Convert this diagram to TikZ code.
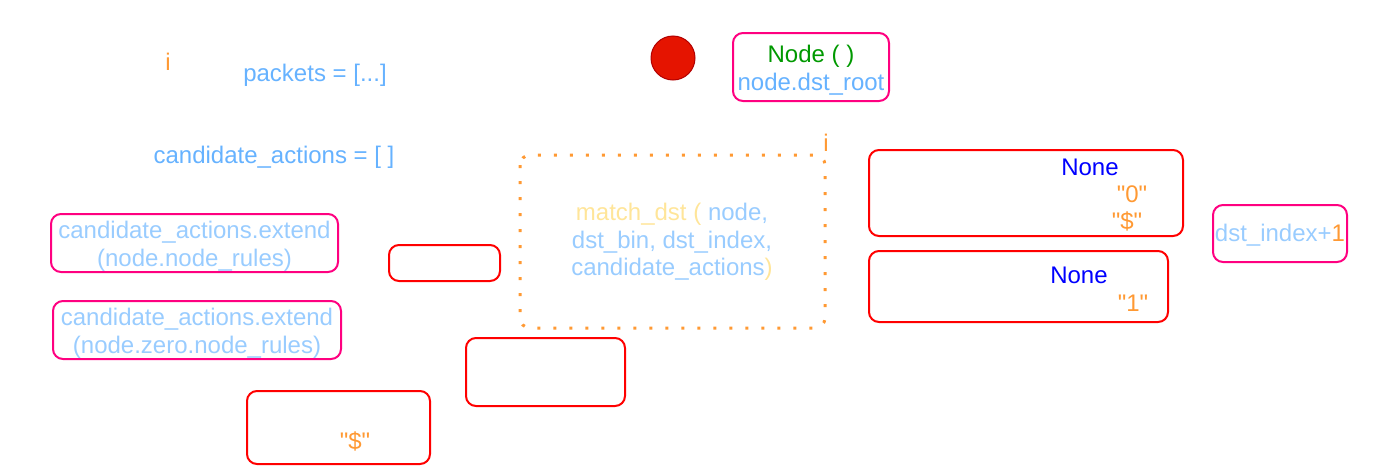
\documentclass[tikz,border=0pt]{standalone}
\usepackage{fontspec}
\setmainfont{Liberation Sans}[Ligatures=TeXOff]
\begin{document}
\definecolor{codeblue}{HTML}{66B2FF}
\definecolor{paleblue}{HTML}{99CCFF}
\definecolor{strorange}{HTML}{FF9933}
\definecolor{fnyellow}{HTML}{FFE599}
\definecolor{kwgreen}{HTML}{009900}
\definecolor{nonblue}{HTML}{0000FF}
\definecolor{boxred}{HTML}{FF0000}
\definecolor{boxpink}{HTML}{FF0080}
\begin{tikzpicture}[x=1pt,y=-1pt,
  every node/.style={inner sep=0pt,font=\fontsize{24}{27.6}\selectfont},
  redbox/.style={draw=boxred,line width=2pt,rounded corners=10pt},
  pinkbox/.style={draw=boxpink,line width=2pt,rounded corners=10pt},
  lbl/.style={align=center}]
\useasboundingbox (0,0) rectangle (1392,466);

% loop markers
\node[text=strorange] (iA) at (168,62) {i};
\node[text=strorange] (iB) at (826,143) {i};

% setup statements
\node[text=codeblue] (pk) at (315,75) {packets = [...]};
\node[text=codeblue] (ca) at (274,157) {candidate\_actions = [ ]};

% start marker
\node[circle,fill={rgb,255:red,229;green,20;blue,0},draw={rgb,255:red,178;green,0;blue,0},line width=1pt,minimum size=44pt] (start) at (673,58) {};

% root node
\node[pinkbox,minimum width=156pt,minimum height=68pt] (root) at (811,67) {};
\node[lbl,text=kwgreen] (rootA) at (811,56) {Node ( )};
\node[lbl,text=codeblue] (rootB) at (811,84) {node.dst\_root};

% recursive call
\draw[strorange,line width=3pt,dash pattern=on 3pt off 13pt,rounded corners=10pt]
  (520,155) rectangle (825,328);
\node[lbl] (callT) at (672,242) {\textcolor{fnyellow}{match\_dst (} \textcolor{paleblue}{node,}\\
  \textcolor{paleblue}{dst\_bin, dst\_index,}\\
  \textcolor{paleblue}{candidate\_actions}\textcolor{fnyellow}{)}};

% branch on bit 0 / end
\node[redbox,minimum width=314pt,minimum height=86pt] (b0) at (1026,193) {};
\node[text=nonblue] (b0n) at (1090,167) {None};
\node[text=strorange] (b0z) at (1132,194) {"0"};
\node[text=strorange] (b0d) at (1127,221) {"\$"};

% branch on bit 1
\node[redbox,minimum width=299pt,minimum height=71pt] (b1) at (1018.5,286.5) {};
\node[text=nonblue] (b1n) at (1079,275) {None};
\node[text=strorange] (b1o) at (1133,303) {"1"};

% next index
\node[pinkbox,minimum width=134pt,minimum height=57pt] (nx) at (1280,233.5) {};
\node (nxT) at (1280,235) {\textcolor{paleblue}{dst\_index+}\textcolor{strorange}{1}};

% extend actions
\node[pinkbox,minimum width=287pt,minimum height=58pt] (e1) at (194.5,243) {};
\node[lbl,text=paleblue] (e1T) at (194.5,246) {candidate\_actions.extend\\(node.node\_rules)};
\node[pinkbox,minimum width=288pt,minimum height=58pt] (e2) at (197,330) {};
\node[lbl,text=paleblue] (e2T) at (197,333) {candidate\_actions.extend\\(node.zero.node\_rules)};

% empty condition boxes
\node[redbox,minimum width=111pt,minimum height=36pt] (c1) at (444.5,263) {};
\node[redbox,minimum width=159pt,minimum height=68pt] (c2) at (545.5,372) {};

% terminal check
\node[redbox,minimum width=183pt,minimum height=73pt] (c3) at (338.5,427.5) {};
\node[text=strorange] (c3T) at (355,441) {"\$"};
\end{tikzpicture}
\end{document}
